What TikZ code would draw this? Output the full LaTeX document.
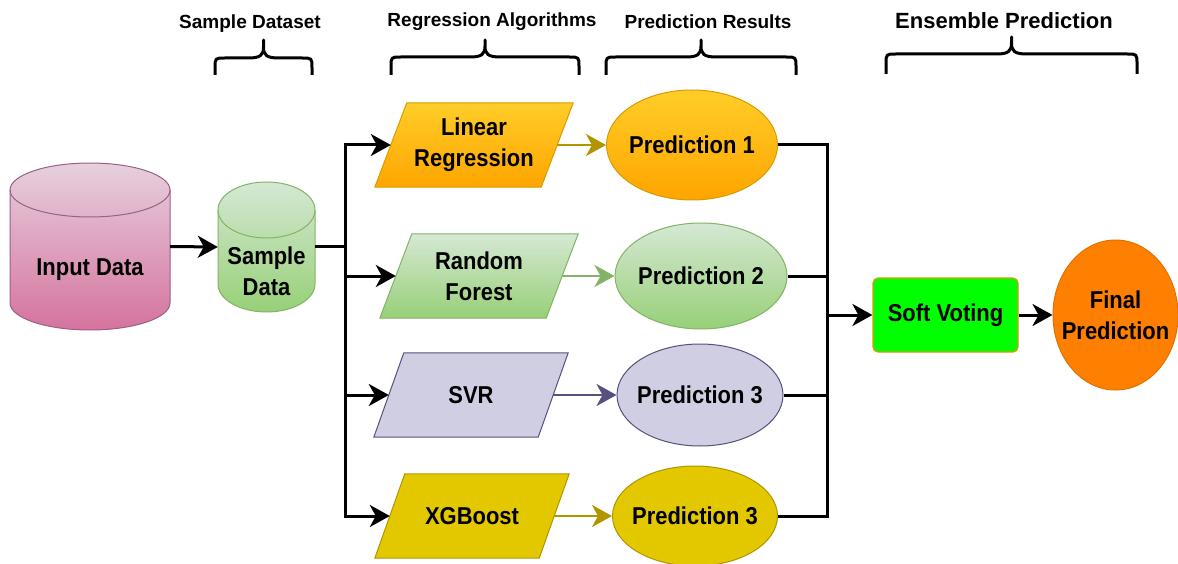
\documentclass[tikz,border=0pt]{standalone}
\usepackage{fontspec}
\setmainfont{Liberation Sans}
\newfontfamily\lblfont{Liberation Sans}[FakeStretch=0.9]
\usetikzlibrary{arrows.meta,shapes.geometric,backgrounds}
\definecolor{pinkT}{HTML}{E6D0DE}
\definecolor{pinkB}{HTML}{D5739D}
\definecolor{pinkS}{HTML}{996185}
\definecolor{grnT}{HTML}{D5E8D4}
\definecolor{grnB}{HTML}{97D077}
\definecolor{grnS}{HTML}{82B366}
\definecolor{orgT}{HTML}{FFCD28}
\definecolor{orgB}{HTML}{FFA500}
\definecolor{orgS}{HTML}{D79B00}
\definecolor{purF}{HTML}{D0CEE2}
\definecolor{purS}{HTML}{56517E}
\definecolor{yelF}{HTML}{E3C800}
\definecolor{yelS}{HTML}{B09500}
\definecolor{limeF}{HTML}{00FF00}
\definecolor{finF}{HTML}{FF8000}
\definecolor{finS}{HTML}{E07000}
\tikzset{
  lbl/.style={font=\lblfont\fontsize{24.4pt}{31pt}\selectfont\bfseries, align=center, inner sep=0pt},
  hdr/.style={font=\fontsize{19pt}{22pt}\selectfont\bfseries, inner sep=0pt},
  anchorbox/.style={rectangle, inner sep=0pt, lbl},
  ell/.style={ellipse, inner sep=0pt, line width=1pt},
  blackline/.style={line width=3pt, black},
  arr/.style={blackline, -{Stealth[length=20pt,width=22pt,inset=6pt]}},
  carr/.style={line width=2.4pt, -{Stealth[length=20pt,width=22pt,inset=6pt]}},
  bracestyle/.style={line width=3pt, black, line join=round},
}
\begin{document}
\begin{tikzpicture}[x=1pt,y=1pt]
\useasboundingbox (0,0) rectangle (1178,-564);

% headers
\node[hdr] (h1) at (250,-24) {Sample Dataset};
\node[hdr] (h2) at (492,-22) {Regression Algorithms};
\node[hdr] (h3) at (708,-22) {Prediction Results};
\node[hdr, font=\fontsize{22pt}{24pt}\selectfont\bfseries] (h4) at (1004,-21) {Ensemble Prediction};

% braces
\foreach \a/\b/\yh/\yt/\ye in {215/312/58/40/75, 391/579/57/40/75, 606/796/57/40/75, 886/1137/54/37/74}{
  \pgfmathsetmacro{\m}{(\a+\b)/2}
  \draw[bracestyle] (\a,-\ye) -- (\a,{-\yh-10}) .. controls (\a,-\yh) .. ({\a+10},-\yh)
    -- ({\m-15},-\yh) .. controls ({\m-3},-\yh) and (\m,{-\yh+3}) .. (\m,{-\yh+11}) -- (\m,-\yt)
    -- (\m,{-\yh+11}) .. controls (\m,{-\yh+3}) and ({\m+3},-\yh) .. ({\m+15},-\yh)
    -- ({\b-10},-\yh) .. controls (\b,-\yh) .. (\b,{-\yh-10}) -- (\b,-\ye);
}

% cylinders (anchor boxes + labels)
\node[anchorbox, minimum width=160pt, minimum height=167pt] (inp) at (90,-246.5) {};
\node[lbl] (inpT) at (90,-270) {Input Data};
\node[anchorbox, minimum width=97pt, minimum height=130pt] (smp) at (266.5,-247) {};
\node[lbl] (smpT) at (266.5,-271) {Sample\\Data};

% parallelograms (anchor boxes carry text)
\node[anchorbox, minimum width=166pt, minimum height=84pt] (lr) at (474,-145) {Linear\\Regression};
\node[anchorbox, minimum width=166pt, minimum height=84pt] (rf) at (479,-276) {Random\\Forest};
\node[anchorbox, minimum width=164pt, minimum height=84pt] (svr) at (471,-395) {SVR};
\node[anchorbox, minimum width=164pt, minimum height=84pt] (xgb) at (472,-516) {XGBoost};

% prediction ellipses
\node[ell, minimum width=171pt, minimum height=110pt, top color=orgT, bottom color=orgB, draw=orgS,
      label={[lbl]center:Prediction 1}] (p1) at (692,-145) {};
\node[ell, minimum width=172pt, minimum height=106pt, top color=grnT, bottom color=grnB, draw=grnS,
      label={[lbl]center:Prediction 2}] (p2) at (701,-276) {};
\node[ell, minimum width=166pt, minimum height=102pt, fill=purF, draw=purS,
      label={[lbl]center:Prediction 3}] (p3) at (700,-395) {};
\node[ell, minimum width=165pt, minimum height=100pt, fill=yelF, draw=yelS,
      label={[lbl]center:Prediction 3}] (p4) at (695,-516) {};

% ensemble
\node[lbl, rectangle, rounded corners=5pt, minimum width=145pt, minimum height=74pt, fill=limeF, draw=orgS, line width=1.2pt] (sv) at (945.5,-315) {Soft Voting};
\node[ell, minimum width=125pt, minimum height=150pt, fill=finF, draw=finS,
      label={[lbl]center:Final\\Prediction}] (fin) at (1115.5,-315) {};

\begin{scope}[on background layer]
  % Input Data cylinder
  \path[draw=pinkS, line width=1pt, top color=pinkT, bottom color=pinkB]
    (10,-190) -- (10,-303) arc[start angle=180,end angle=360,x radius=80,y radius=27]
    -- (170,-190) arc[start angle=0,end angle=180,x radius=80,y radius=27] -- cycle;
  \draw[pinkS, line width=1pt] (10,-190) arc[start angle=180,end angle=360,x radius=80,y radius=27];
  % Sample Data cylinder
  \path[draw=grnS, line width=1pt, top color=grnT, bottom color=grnB]
    (218,-210) -- (218,-284) arc[start angle=180,end angle=360,x radius=48.5,y radius=28]
    -- (315,-210) arc[start angle=0,end angle=180,x radius=48.5,y radius=28] -- cycle;
  \draw[grnS, line width=1pt] (218,-210) arc[start angle=180,end angle=360,x radius=48.5,y radius=28];
  % parallelograms
  \path[draw=orgS, line width=1pt, top color=orgT, bottom color=orgB]
    ([xshift=16pt]lr.north west) -- ([xshift=16pt]lr.north east) -- ([xshift=-16pt]lr.south east) -- ([xshift=-16pt]lr.south west) -- cycle;
  \path[draw=grnS, line width=1pt, top color=grnT, bottom color=grnB]
    ([xshift=16pt]rf.north west) -- ([xshift=16pt]rf.north east) -- ([xshift=-16pt]rf.south east) -- ([xshift=-16pt]rf.south west) -- cycle;
  \path[draw=purS, line width=1pt, fill=purF]
    ([xshift=15pt]svr.north west) -- ([xshift=15pt]svr.north east) -- ([xshift=-15pt]svr.south east) -- ([xshift=-15pt]svr.south west) -- cycle;
  \path[draw=yelS, line width=1pt, fill=yelF]
    ([xshift=15pt]xgb.north west) -- ([xshift=15pt]xgb.north east) -- ([xshift=-15pt]xgb.south east) -- ([xshift=-15pt]xgb.south west) -- cycle;
\end{scope}

% connectors
\coordinate (sl) at (345,-247);
\coordinate (sr) at (827,-315);
\draw[arr] (inp.east) -- (smp.west);
\draw[blackline] (smp.east) -- (sl);
\draw[arr] (sl) |- (lr.west);
\draw[arr] (sl) |- (rf.west);
\draw[arr] (sl) |- (svr.west);
\draw[arr] (sl) |- (xgb.west);

\draw[carr, yelS] (lr.east) -- (p1.west);
\draw[carr, grnS] (rf.east) -- (p2.west);
\draw[carr, purS] (svr.east) -- (p3.west);
\draw[carr, yelS] (xgb.east) -- (p4.west);

\draw[blackline] (p1.east) -| (sr);
\draw[blackline] (p2.east) -| (sr);
\draw[blackline] (p3.east) -| (sr);
\draw[blackline] (p4.east) -| (sr);
\draw[arr] (sr) -- (sv.west);
\draw[arr] (sv.east) -- (fin.west);
\end{tikzpicture}
\end{document}
